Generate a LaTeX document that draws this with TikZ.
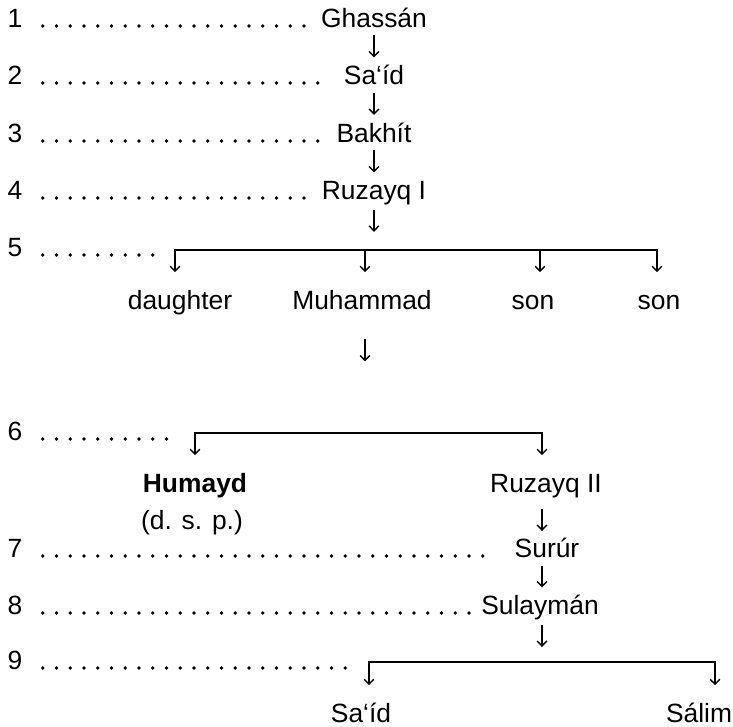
\documentclass[tikz,border=0pt]{standalone}
\usepackage{fontspec}
\setmainfont{Liberation Sans}
\usetikzlibrary{arrows.meta,calc}
\newcommand\midarrow[3][0.5]{\draw[arr] ($(#2)!#1!(#3)+(0,-11)$) -- ($(#2)!#1!(#3)+(0,11)$);}
\begin{document}
\begin{tikzpicture}[x=0.5pt,y=-0.5pt,
  txt/.style={font=\fontsize{13.2pt}{15pt}\selectfont, inner sep=0pt, text height=9.4pt, text depth=0pt},
  boldtxt/.style={txt, font=\fontsize{13.2pt}{15pt}\selectfont\bfseries},
  arr/.style={line width=0.7pt, -{Straight Barb[length=2.5pt,width=4.8pt]}},
  drop/.style={arr, shorten >=9pt},
  bar/.style={line width=0.7pt, line cap=rect},
  leader/.style={line width=1.8pt, line cap=round, dash pattern=on 0pt off 6.875pt}
]
\useasboundingbox (0,0) rectangle (733,727);
% row labels
\node[txt] (n1) at (15,18) {1};
\node[txt] (n2) at (15,75) {2};
\node[txt] (n3) at (15,133) {3};
\node[txt] (n4) at (15,190) {4};
\node[txt] (n5) at (15,247) {5};
\node[txt] (n6) at (15,431) {6};
\node[txt] (n7) at (15,548) {7};
\node[txt] (n8) at (15,605) {8};
\node[txt] (n9) at (15,660) {9};
% main line
\node[txt] (g1) at (374,18) {Ghassán};
\node[txt] (g2) at (374,75) {Sa‘íd};
\node[txt] (g3) at (374,133) {Bakhít};
\node[txt] (g4) at (374,190) {Ruzayq I};
% generation 5
\coordinate (b5a) at (175,250);
\coordinate (b5b) at (365,250);
\coordinate (b5c) at (540,250);
\coordinate (b5d) at (657,250);
\node[txt] (c51) at (180,300) {daughter};
\node[txt] (c52) at (362,300) {Muhammad};
\node[txt] (c53) at (533,300) {son};
\node[txt] (c54) at (659,300) {son};
% generation 6
\coordinate (b6a) at (195,433);
\coordinate (b6b) at (365,433);
\coordinate (b6c) at (542,433);
\node[boldtxt] (h) at (195,483) {Humayd};
\node[txt] (dsp) at (192,520) {(d. s. p.)};
\node[txt] (r2) at (546,483) {Ruzayq II};
% generations 7-9
\node[txt] (s7) at (547,548) {Surúr};
\node[txt] (s8) at (540,605) {Sulaymán};
\coordinate (b9a) at (369,662);
\coordinate (b9b) at (542,662);
\coordinate (b9c) at (715,662);
\node[txt] (c91) at (361,713) {Sa‘íd};
\node[txt] (c92) at (699,713) {Sálim};
% leaders
\draw[leader] ([shift={(10pt,0.9pt)}]n1.south east) -- ([shift={(-8pt,0.9pt)}]n1.south east -| g1.west);
\draw[leader] ([shift={(10pt,0.9pt)}]n2.south east) -- ([shift={(-11pt,0.9pt)}]n2.south east -| g2.west);
\draw[leader] ([shift={(10pt,0.9pt)}]n3.south east) -- ([shift={(-7.5pt,0.9pt)}]n3.south east -| g3.west);
\draw[leader] ([shift={(10pt,0.9pt)}]n4.south east) -- ([shift={(-8pt,0.9pt)}]n4.south east -| g4.west);
\draw[leader] ([shift={(10pt,0.9pt)}]n5.south east) -- ([shift={(-9pt,0.9pt)}]n5.south east -| b5a);
\draw[leader] ([shift={(10pt,0.9pt)}]n6.south east) -- ([shift={(-9pt,0.9pt)}]n6.south east -| b6a);
\draw[leader] ([shift={(10pt,0.9pt)}]n7.south east) -- ([shift={(-13pt,0.9pt)}]n7.south east -| s7.west);
\draw[leader] ([shift={(10pt,0.9pt)}]n8.south east) -- ([shift={(-4.5pt,0.9pt)}]n8.south east -| s8.west);
\draw[leader] ([shift={(10pt,0.9pt)}]n9.south east) -- ([shift={(-9pt,0.9pt)}]n9.south east -| b9a);
% descent arrows
\midarrow{g1.south}{g2.north}
\midarrow{g2.south}{g3.north}
\midarrow{g3.south}{g4.north}
\midarrow[0.42]{g4.south}{g4.south |- b5a}
\midarrow[0.33]{c52.south -| b6b}{b6b}
\midarrow[0.6]{r2.south -| b6c}{b6c |- s7.north}
\midarrow{s7.south -| b6c}{b6c |- s8.north}
\midarrow[0.45]{s8.south -| b9b}{b9b}
% bars and drops
\draw[bar] (b5a) -- (b5d);
\draw[drop] (b5a) -- (b5a |- c51.north);
\draw[drop] (b5b) -- (b5b |- c52.north);
\draw[drop] (b5c) -- (b5c |- c53.north);
\draw[drop] (b5d) -- (b5d |- c54.north);
\draw[bar] (b6a) -- (b6c);
\draw[drop] (b6a) -- (b6a |- h.north);
\draw[drop] (b6c) -- (b6c |- r2.north);
\draw[bar] (b9a) -- (b9c);
\draw[drop] (b9a) -- (b9a |- c91.north);
\draw[drop] (b9c) -- (b9c |- c92.north);
\end{tikzpicture}
\end{document}
